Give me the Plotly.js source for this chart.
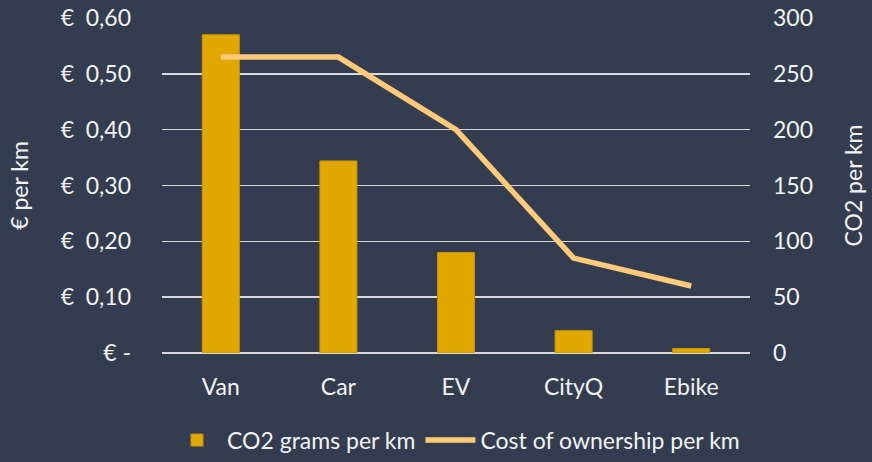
<!DOCTYPE html>
<html><head><meta charset="utf-8">
<script src="https://cdn.plot.ly/plotly-3.0.1.min.js"></script>
<style>html,body{margin:0;padding:0;background:#333d4f;}</style>
</head><body>
<div id="chart" style="width:872px;height:462px;"></div>
<script>
const categories = ["Van", "Car", "EV", "CityQ", "Ebike"];
const co2PerKm = [285, 172, 90, 20, 4];
const costPerKm = [0.53, 0.53, 0.40, 0.17, 0.12];
const euroTickVals = [0, 0.1, 0.2, 0.3, 0.4, 0.5, 0.6];
const euroTickText = ["€ -", "€\u00a0\u00a00,10", "€\u00a0\u00a00,20", "€\u00a0\u00a00,30", "€\u00a0\u00a00,40", "€\u00a0\u00a00,50", "€\u00a0\u00a00,60"];
const co2TickVals = [0, 50, 100, 150, 200, 250, 300];

const font = {family: "Lato, 'Open Sans', sans-serif", color: "#f2f2f2", size: 23};

const data = [
  {type: "bar", x: categories, y: co2PerKm, name: "CO2 grams per km", yaxis: "y",
   marker: {color: "#e0a800", line: {color: "#c99600", width: 1}}},
  {type: "scatter", mode: "lines", x: categories, y: costPerKm, name: "Cost of ownership per km", yaxis: "y2",
   line: {color: "#ffca7a", width: 5.5}}
];

const layout = {
  width: 872, height: 462,
  paper_bgcolor: "#333d4f", plot_bgcolor: "#333d4f",
  font: font,
  margin: {l: 162, r: 122, t: 18, b: 109, autoexpand: false},
  bargap: 0.685,
  showlegend: true,
  legend: {orientation: "h", x: 0.5, xanchor: "center", y: -0.26, yanchor: "middle", font: font,
           traceorder: "normal", itemwidth: 50},
  xaxis: {showgrid: false, showline: false, ticks: "", tickfont: font, ticklabelstandoff: 18},
  yaxis: {side: "right", range: [0, 300], tickvals: co2TickVals, showgrid: true, gridcolor: "#d9d9d9", gridwidth: 1.6,
          zeroline: true, zerolinecolor: "#d9d9d9", zerolinewidth: 1.6, showline: false, ticks: "",
          tickfont: font, ticklabelstandoff: 22,
          title: {text: "CO2 per km", font: font, standoff: 33}},
  yaxis2: {side: "left", overlaying: "y", range: [0, 0.6], tickvals: euroTickVals, ticktext: euroTickText,
           showgrid: false, zeroline: false, showline: false, ticks: "", tickfont: font, ticklabelstandoff: 30,
           title: {text: "€ per km", font: font, standoff: 25}}
};

Plotly.newPlot("chart", data, layout, {displayModeBar: false, staticPlot: true});
</script>
</body></html>
